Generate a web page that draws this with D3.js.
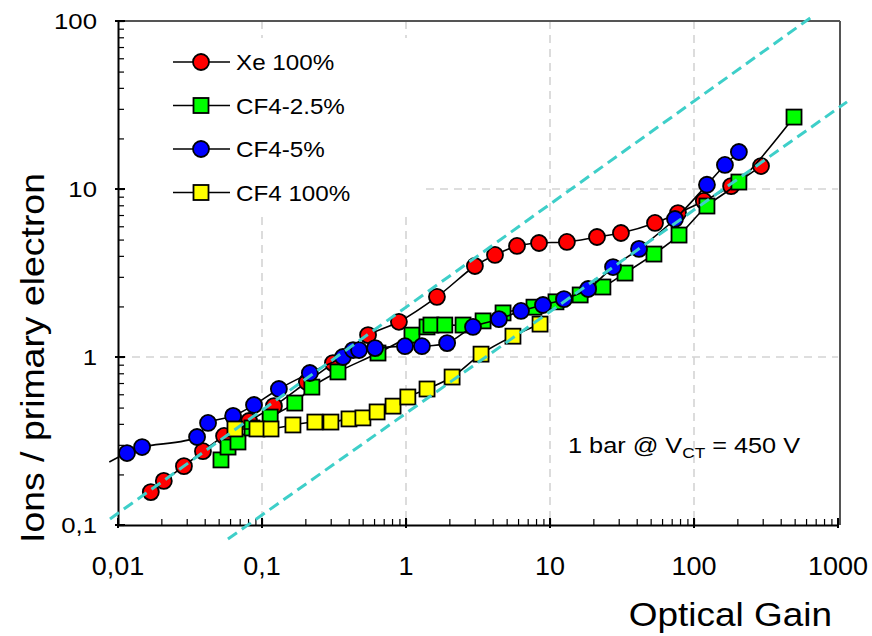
<!DOCTYPE html>
<html>
<head>
<meta charset="utf-8">
<script src="https://cdn.jsdelivr.net/npm/d3@7"></script>
<style>
  html, body { margin: 0; padding: 0; background: #fff; }
  svg { display: block; font-family: "Liberation Sans", Arial, sans-serif; }
</style>
</head>
<body>
<svg id="chart" width="872" height="636"></svg>
<script>
// ---------------- DATA ----------------
const seriesNames = ["Xe 100%", "CF4-2.5%", "CF4-5%", "CF4 100%"];

const xeGain = [0.0169,0.0208,0.0287,0.0389,0.0545,0.0813,0.121,0.205,0.311,0.545,0.893,1.64,3.01,4.15,5.90,8.39,13.1,21.2,31.1,53.6,77.4,117,181,292];
const xeIons = [0.157,0.183,0.224,0.275,0.339,0.416,0.510,0.710,0.920,1.35,1.62,2.28,3.48,4.05,4.58,4.77,4.84,5.18,5.47,6.28,7.19,8.49,10.4,13.7];

const cf425Gain = [0.0519,0.0581,0.0681,0.0853,0.114,0.169,0.222,0.337,0.639,1.10,1.40,1.49,1.86,2.49,3.43,4.72,7.74,11.0,16.2,23.3,33.2,52.7,78.7,123,205,495];
const cf425Ions = [0.244,0.291,0.312,0.378,0.439,0.532,0.662,0.815,1.056,1.35,1.51,1.55,1.55,1.55,1.64,1.83,1.98,2.13,2.34,2.61,3.16,4.10,5.32,7.92,11.0,26.8];

const cf45Gain = [0.01155,0.0147,0.0354,0.0422,0.0630,0.0880,0.131,0.215,0.365,0.429,0.472,0.610,0.984,1.29,1.93,2.92,4.42,6.29,8.94,12.5,18.4,27.4,41.5,73.8,123,164,205];
const cf45Ions = [0.268,0.291,0.334,0.405,0.446,0.518,0.645,0.803,1.00,1.10,1.10,1.13,1.16,1.16,1.21,1.51,1.68,1.88,2.04,2.21,2.54,3.43,4.40,6.63,10.6,13.9,16.6];
// curve of CF4-5% starts just left of the axis (no marker there)
const cf45LineStart = [0.0087, 0.237];

const cf4Gain = [0.0649,0.0923,0.1155,0.164,0.233,0.301,0.402,0.502,0.630,0.813,1.03,1.40,2.09,3.32,5.53,8.53];
const cf4Ions = [0.373,0.373,0.373,0.394,0.410,0.410,0.428,0.434,0.471,0.510,0.578,0.645,0.760,1.04,1.33,1.57];

// dashed reference lines (end points)
const refLineUpper = [[0.0088, 0.1086], [670, 107]];
const refLineLower = [[0.058, 0.0825], [1155, 33]];

const xTickValues = [0.01, 0.1, 1, 10, 100, 1000];
const xTickLabels = ["0,01", "0,1", "1", "10", "100", "1000"];
const yTickValues = [0.1, 1, 10, 100];
const yTickLabels = ["0,1", "1", "10", "100"];

const xTitle = "Optical Gain";
const yTitle = "Ions / primary electron";

// ---------------- LAYOUT ----------------
const L = 118, R = 838, T = 21, B = 525;

const svg = d3.select("#chart");
const x = d3.scaleLog().domain([0.01, 1000]).range([L, R]);
const y = d3.scaleLog().domain([0.1, 100]).range([B, T]);

function stretchedText(parent, px, py, str, size, anchor, sx, rot) {
  const g = parent.append("g")
    .attr("transform", `translate(${px},${py}) rotate(${rot || 0}) scale(${sx},1)`);
  return g.append("text")
    .attr("x", 0).attr("y", 0)
    .attr("text-anchor", anchor)
    .attr("font-size", size)
    .attr("fill", "#000")
    .text(str);
}

// ---------------- GRID ----------------
const grid = svg.append("g");
[0.1, 1, 10, 100].forEach(v => {
  grid.append("line")
    .attr("x1", x(v)).attr("x2", x(v)).attr("y1", T).attr("y2", B)
    .attr("stroke", "#d4d4d4").attr("stroke-width", 1.6).attr("stroke-dasharray", "8,6");
});
[1, 10].forEach(v => {
  grid.append("line")
    .attr("x1", L).attr("x2", R).attr("y1", y(v)).attr("y2", y(v))
    .attr("stroke", "#d4d4d4").attr("stroke-width", 1.6).attr("stroke-dasharray", "8,6");
});

// legend background (hides grid behind it)
svg.append("rect").attr("x", L + 2).attr("y", 38).attr("width", 425 - L - 2).attr("height", 178)
  .attr("fill", "#fff");

// frame top / right
svg.append("line").attr("x1", L).attr("x2", R + 2).attr("y1", T).attr("y2", T)
  .attr("stroke", "#555").attr("stroke-width", 2);
svg.append("line").attr("x1", R + 2).attr("x2", R + 2).attr("y1", T).attr("y2", B)
  .attr("stroke", "#555").attr("stroke-width", 2);

// ---------------- AXES ----------------
function minorTicks(lo, hi) {
  const arr = [];
  for (let d = lo; d < hi * 0.999; d *= 10) for (let k = 1; k <= 9; k++) arr.push(d * k);
  arr.push(hi);
  return arr;
}
const xAxis = d3.axisBottom(x).tickValues(minorTicks(0.01, 1000)).tickSize(-6).tickSizeOuter(0).tickFormat("");
const yAxis = d3.axisLeft(y).tickValues(minorTicks(0.1, 100)).tickSize(-6).tickSizeOuter(0).tickFormat("");
const gx = svg.append("g").attr("transform", `translate(0,${B})`).call(xAxis);
const gy = svg.append("g").attr("transform", `translate(${L},0)`).call(yAxis);
[gx, gy].forEach(g => {
  g.select(".domain").attr("stroke", "#000").attr("stroke-width", 2);
  g.selectAll(".tick line").attr("stroke", "#000").attr("stroke-width", 1.2);
});
// major ticks cross the axis
xTickValues.forEach(v => svg.append("line").attr("x1", x(v)).attr("x2", x(v)).attr("y1", B - 7).attr("y2", B + 3).attr("stroke", "#000").attr("stroke-width", 2));
yTickValues.forEach(v => svg.append("line").attr("y1", y(v)).attr("y2", y(v)).attr("x1", L - 3).attr("x2", L + 7).attr("stroke", "#000").attr("stroke-width", 2));

// tick labels
xTickValues.forEach((v, i) => stretchedText(svg, x(v), 575, xTickLabels[i], 25, "middle", 1.08));
yTickValues.forEach((v, i) => stretchedText(svg, 97, y(v) + 8, yTickLabels[i], 23, "end", 1.12));

// axis titles
stretchedText(svg, 832, 626, xTitle, 33, "end", 1.12);
stretchedText(svg, 44, 358, yTitle, 34, "middle", 1.1, -90);

// ---------------- SERIES ----------------
const line = d3.line().x(d => x(d[0])).y(d => y(d[1])).curve(d3.curveCatmullRom.alpha(0.5));
const zip = (a, b) => a.map((v, i) => [v, b[i]]);

const series = [
  { name: seriesNames[0], pts: zip(xeGain, xeIons), color: "#ff0000", shape: "circle" },
  { name: seriesNames[1], pts: zip(cf425Gain, cf425Ions), color: "#00ff00", shape: "square" },
  { name: seriesNames[2], pts: zip(cf45Gain, cf45Ions), color: "#0000ff", shape: "circle", lead: cf45LineStart },
  { name: seriesNames[3], pts: zip(cf4Gain, cf4Ions), color: "#ffff00", shape: "square" }
];

function drawMarker(g, px, py, s) {
  if (s.shape === "circle") {
    g.append("circle").attr("cx", px).attr("cy", py).attr("r", 8)
      .attr("fill", s.color).attr("stroke", "#000").attr("stroke-width", 1.8);
  } else {
    g.append("rect").attr("x", px - 7.5).attr("y", py - 7.5).attr("width", 15).attr("height", 15)
      .attr("fill", s.color).attr("stroke", "#000").attr("stroke-width", 1.8);
  }
}

series.forEach(s => {
  const g = svg.append("g");
  const lp = s.lead ? [s.lead, ...s.pts] : s.pts;
  g.append("path").attr("d", line(lp)).attr("fill", "none").attr("stroke", "#000").attr("stroke-width", 1.6);
  s.pts.forEach(p => drawMarker(g, x(p[0]), y(p[1]), s));
});

// ---------------- REFERENCE LINES ----------------
[refLineUpper, refLineLower].forEach(r => {
  svg.append("line")
    .attr("x1", x(r[0][0])).attr("y1", y(r[0][1]))
    .attr("x2", x(r[1][0])).attr("y2", y(r[1][1]))
    .attr("stroke", "#3ecfc9").attr("stroke-width", 3).attr("stroke-dasharray", "11,6");
});

// ---------------- LEGEND ----------------
const legend = svg.append("g");
series.forEach((s, i) => {
  const ly = 62 + i * 43.5;
  legend.append("line").attr("x1", 173).attr("x2", 230).attr("y1", ly).attr("y2", ly)
    .attr("stroke", "#000").attr("stroke-width", 1.6);
  drawMarker(legend, 201, ly, s);
  stretchedText(legend, 236, ly + 8, s.name, 22, "start", 1.1);
});

// ---------------- ANNOTATION ----------------
const ag = svg.append("g").attr("transform", `translate(568,453) scale(1.15,1)`);
const at = ag.append("text").attr("font-size", 22).attr("fill", "#000");
at.append("tspan").text("1 bar @ V");
at.append("tspan").attr("font-size", 15).attr("dy", 5).text("CT");
at.append("tspan").attr("dy", -5).text(" = 450 V");
</script>
</body>
</html>
